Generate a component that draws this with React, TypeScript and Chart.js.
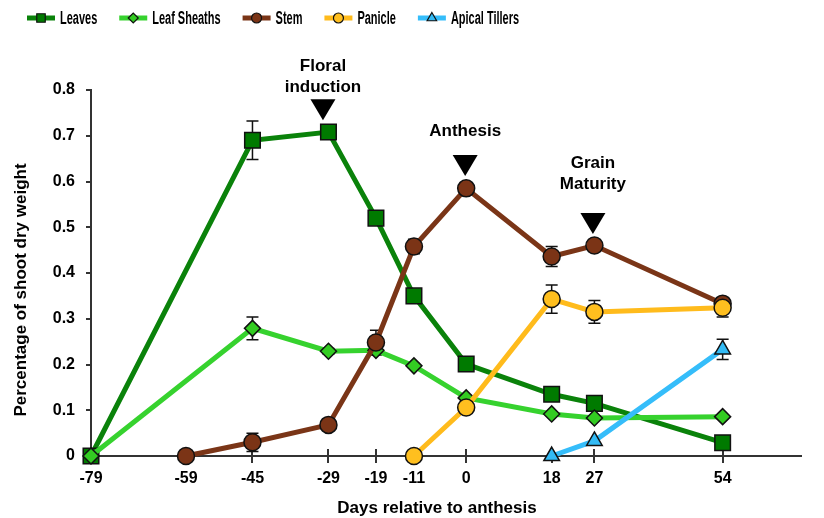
import React, { useEffect, useRef } from 'react';
import { Chart, registerables } from 'chart.js';

Chart.register(...registerables);

// ---- data ----
const xTickValues = [-79, -59, -45, -29, -19, -11, 0, 18, 27, 54];

const leavesX = [-79, -45, -29, -19, -11, 0, 18, 27, 54];
const leavesY = [0, 0.69, 0.708, 0.52, 0.35, 0.201, 0.135, 0.115, 0.029];
const leavesErr = [0, 0.042, 0.006, 0.012, 0.012, 0.006, 0.006, 0.008, 0.008];

const sheathsX = [-79, -45, -29, -19, -11, 0, 18, 27, 54];
const sheathsY = [0, 0.279, 0.229, 0.231, 0.197, 0.127, 0.092, 0.083, 0.086];
const sheathsErr = [0, 0.025, 0.006, 0.006, 0.005, 0.005, 0.004, 0.004, 0.004];

const stemX = [-59, -45, -29, -19, -11, 0, 18, 27, 54];
const stemY = [0, 0.03, 0.068, 0.248, 0.458, 0.585, 0.436, 0.46, 0.333];
const stemErr = [0, 0.02, 0.006, 0.027, 0.016, 0.008, 0.022, 0.013, 0.008];

const panicleX = [-11, 0, 18, 27, 54];
const panicleY = [0, 0.106, 0.343, 0.315, 0.324];
const panicleErr = [0, 0.008, 0.031, 0.025, 0.02];

const tillersX = [18, 27, 54];
const tillersY = [0, 0.033, 0.233];
const tillersErr = [0, 0, 0.022];

const seriesNames = ['Leaves', 'Leaf Sheaths', 'Stem', 'Panicle', 'Apical Tillers'];

const eventX = [-29, 0, 27];
const eventTipY = [0.734, 0.612, 0.485];
const eventLabels = [['Floral', 'induction'], ['Anthesis'], ['Grain', 'Maturity']];

const FONT = '"Liberation Sans", Arial, Helvetica, sans-serif';

const styles = [
  { line: '#0a820a', fill: '#007a00', shape: 'rect', r: 11, lr: 6 },
  { line: '#36d22e', fill: '#33cc22', shape: 'rectRot', r: 8, lr: 5 },
  { line: '#7a3517', fill: '#7b3416', shape: 'circle', r: 8.5, lr: 5 },
  { line: '#ffbb1c', fill: '#ffbf1f', shape: 'circle', r: 8.5, lr: 5 },
  { line: '#35bdfa', fill: '#33bbf5', shape: 'triangle', r: 9, lr: 5.5 },
];

const seriesX = [leavesX, sheathsX, stemX, panicleX, tillersX];
const seriesY = [leavesY, sheathsY, stemY, panicleY, tillersY];
const seriesErr = [leavesErr, sheathsErr, stemErr, panicleErr, tillersErr];

function drawMarker(ctx: CanvasRenderingContext2D, shape: string, x: number, y: number, r: number) {
  ctx.beginPath();
  if (shape === 'rect') {
    const s = Math.SQRT1_2 * r;
    ctx.rect(x - s, y - s, 2 * s, 2 * s);
  } else if (shape === 'rectRot') {
    ctx.moveTo(x - r, y);
    ctx.lineTo(x, y - r);
    ctx.lineTo(x + r, y);
    ctx.lineTo(x, y + r);
    ctx.closePath();
  } else if (shape === 'circle') {
    ctx.arc(x, y, r, 0, Math.PI * 2);
  } else {
    let a = 0;
    ctx.moveTo(x + Math.sin(a) * r, y - Math.cos(a) * r);
    a += (2 * Math.PI) / 3;
    ctx.lineTo(x + Math.sin(a) * r, y - Math.cos(a) * r);
    a += (2 * Math.PI) / 3;
    ctx.lineTo(x + Math.sin(a) * r, y - Math.cos(a) * r);
    ctx.closePath();
  }
}

const customPlugin = {
  id: 'customDecor',
  beforeDatasetsDraw(chart: any) {
    const ctx: CanvasRenderingContext2D = chart.ctx;
    const xs = chart.scales.x;
    const ys = chart.scales.y;
    const area = chart.chartArea;
    ctx.save();
    // tick marks
    ctx.strokeStyle = '#333';
    ctx.lineWidth = 2;
    xTickValues.forEach((v) => {
      const px = Math.round(xs.getPixelForValue(v));
      ctx.beginPath();
      ctx.moveTo(px, area.bottom - 7);
      ctx.lineTo(px, area.bottom + 7);
      ctx.stroke();
    });
    for (let v = 0; v <= 0.8001; v += 0.1) {
      const py = Math.round(ys.getPixelForValue(v));
      ctx.beginPath();
      ctx.moveTo(area.left - 5, py);
      ctx.lineTo(area.left, py);
      ctx.stroke();
    }
    // error bars
    ctx.strokeStyle = '#111';
    ctx.lineWidth = 1.5;
    seriesErr.forEach((errs, i) => {
      const meta = chart.getDatasetMeta(i);
      errs.forEach((e, j) => {
        if (!e) return;
        const pt = meta.data[j];
        const v = seriesY[i][j];
        const top = ys.getPixelForValue(v + e);
        const bot = ys.getPixelForValue(Math.max(0, v - e));
        ctx.beginPath();
        ctx.moveTo(pt.x, top);
        ctx.lineTo(pt.x, bot);
        ctx.moveTo(pt.x - 6, top);
        ctx.lineTo(pt.x + 6, top);
        ctx.moveTo(pt.x - 6, bot);
        ctx.lineTo(pt.x + 6, bot);
        ctx.stroke();
      });
    });
    ctx.restore();
  },
  afterDraw(chart: any) {
    const ctx: CanvasRenderingContext2D = chart.ctx;
    const xs = chart.scales.x;
    const ys = chart.scales.y;
    ctx.save();
    // legend
    let lx = 27;
    const ly = 18;
    const scaleX = 0.61;
    ctx.font = 'bold 18px ' + FONT;
    ctx.textBaseline = 'middle';
    seriesNames.forEach((name, i) => {
      const st = styles[i];
      ctx.strokeStyle = st.line;
      ctx.lineWidth = 5;
      ctx.beginPath();
      ctx.moveTo(lx, ly);
      ctx.lineTo(lx + 28, ly);
      ctx.stroke();
      drawMarker(ctx, st.shape, lx + 14, ly, st.lr);
      ctx.fillStyle = st.fill;
      ctx.fill();
      ctx.lineWidth = 1.2;
      ctx.strokeStyle = '#111';
      ctx.stroke();
      const tx = lx + 33;
      const w = ctx.measureText(name).width * scaleX;
      ctx.save();
      ctx.translate(tx, ly + 1);
      ctx.scale(scaleX, 1);
      ctx.fillStyle = '#000';
      ctx.textAlign = 'left';
      ctx.fillText(name, 0, 0);
      ctx.restore();
      lx = tx + w + 22;
    });

    // event annotations
    const nudges = [-5.5, -1, -1.5];
    const textOffsets = [-33, -45, -50];
    ctx.fillStyle = '#000';
    ctx.textAlign = 'center';
    ctx.textBaseline = 'middle';
    ctx.font = 'bold 17px ' + FONT;
    eventX.forEach((v, i) => {
      const cx = xs.getPixelForValue(v) + nudges[i];
      const tip = ys.getPixelForValue(eventTipY[i]);
      ctx.beginPath();
      ctx.moveTo(cx, tip);
      ctx.lineTo(cx - 12.5, tip - 21);
      ctx.lineTo(cx + 12.5, tip - 21);
      ctx.closePath();
      ctx.fill();
      const lines = eventLabels[i];
      const lastY = tip + textOffsets[i];
      lines.forEach((t, k) => {
        ctx.fillText(t, cx, lastY - (lines.length - 1 - k) * 21);
      });
    });

    // axis titles
    ctx.font = 'bold 17px ' + FONT;
    ctx.fillText('Days relative to anthesis', 437, 508);
    ctx.save();
    ctx.translate(21, 290);
    ctx.rotate(-Math.PI / 2);
    ctx.fillText('Percentage of shoot dry weight', 0, 0);
    ctx.restore();
    ctx.restore();
  },
};

export default function App() {
  const ref = useRef<HTMLCanvasElement>(null);
  useEffect(() => {
    const datasets = seriesNames.map((name, i) => {
      const st = styles[i];
      return {
        label: name,
        data: seriesX[i].map((x, j) => ({ x, y: seriesY[i][j] })),
        borderColor: st.line,
        borderWidth: 5,
        backgroundColor: st.fill,
        pointStyle: st.shape,
        pointRadius: st.r,
        pointBackgroundColor: st.fill,
        pointBorderColor: '#111',
        pointBorderWidth: 1.5,
        tension: 0,
        clip: false,
        order: 5 - i,
      };
    });
    const chart = new Chart(ref.current as HTMLCanvasElement, {
      type: 'line',
      data: { datasets } as any,
      options: {
        animation: false,
        responsive: false,
        maintainAspectRatio: false,
        layout: { padding: { top: 90, right: 23, left: 0, bottom: 0 } },
        plugins: { legend: { display: false }, tooltip: { enabled: false } },
        font: { family: FONT },
        scales: {
          x: {
            type: 'linear',
            min: -79,
            max: 70.5,
            afterBuildTicks: (s: any) => {
              s.ticks = xTickValues.map((v) => ({ value: v }));
            },
            afterFit: (s: any) => {
              s.height = 62;
            },
            grid: { display: false, drawTicks: false },
            border: { display: true, color: '#333', width: 2 },
            ticks: {
              autoSkip: false,
              maxRotation: 0,
              padding: 13,
              color: '#000',
              font: { family: FONT, size: 16, weight: 'bold' },
              callback: (v: any) => String(v),
            },
          },
          y: {
            min: 0,
            max: 0.8,
            afterFit: (s: any) => {
              s.width = 91;
            },
            grid: { display: false, drawTicks: false },
            border: { display: true, color: '#333', width: 2 },
            ticks: {
              stepSize: 0.1,
              padding: 16,
              color: '#000',
              font: { family: FONT, size: 16, weight: 'bold' },
              callback: (v: any) => (Math.abs(v) < 1e-9 ? '0' : Number(v).toFixed(1)),
            },
          },
        },
      } as any,
      plugins: [customPlugin],
    });
    return () => chart.destroy();
  }, []);
  return (
    <div style={{ position: 'fixed', left: 0, top: 0, width: 824, height: 518, background: '#fff' }}>
      <canvas ref={ref} width={824} height={518} style={{ width: 824, height: 518, display: 'block' }} />
    </div>
  );
}
